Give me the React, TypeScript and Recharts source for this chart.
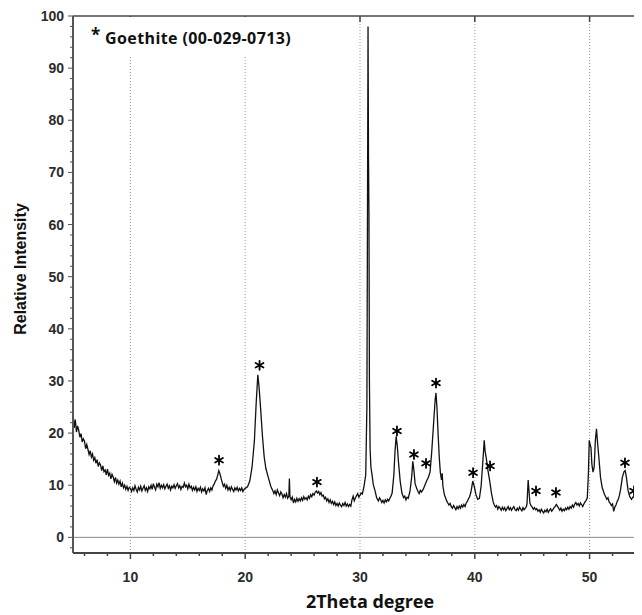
import { ComposedChart, Line, Scatter, XAxis, YAxis, ReferenceLine } from 'recharts';

// 2theta (deg), relative intensity
const lowAngle: [number, number][] = [
  [5.0, 24.0], [5.1, 21.0], [5.2, 22.6], [5.3, 20.2], [5.4, 21.4], [5.5, 20.5], [5.6, 19.2], [5.7, 19.9],
  [5.8, 18.3], [5.9, 18.9], [6.0, 18.5], [6.1, 17.0], [6.2, 17.8], [6.3, 16.9], [6.4, 15.9], [6.5, 16.6],
  [6.6, 15.4], [6.7, 16.0], [6.8, 14.8], [6.9, 15.3], [7.0, 14.2], [7.1, 14.9], [7.2, 13.6], [7.3, 14.3],
  [7.4, 13.9], [7.5, 12.8], [7.6, 13.7], [7.7, 12.6], [7.8, 12.9], [7.9, 12.0], [8.0, 13.1], [8.1, 11.9],
  [8.2, 12.3], [8.3, 11.2], [8.4, 12.1], [8.5, 11.6], [8.6, 10.7], [8.7, 11.5], [8.8, 10.4], [8.9, 11.0],
  [9.0, 10.2], [9.1, 10.8], [9.2, 9.7], [9.3, 10.4], [9.4, 9.5], [9.5, 10.0], [9.6, 9.2], [9.7, 9.8],
  [9.8, 9.0], [9.9, 9.6], [10.0, 9.4], [10.1, 8.8], [10.2, 9.5], [10.3, 9.0], [10.4, 9.9], [10.5, 9.2],
  [10.6, 8.7], [10.7, 9.6], [10.8, 9.1], [10.9, 9.8], [11.0, 8.9], [11.1, 9.4], [11.2, 9.9], [11.3, 9.0],
  [11.4, 9.5], [11.5, 8.8], [11.6, 9.7], [11.7, 9.3], [11.8, 10.0], [11.9, 9.2], [12.0, 10.3], [12.1, 9.6],
  [12.2, 9.1], [12.3, 10.2], [12.4, 9.7], [12.5, 10.5], [12.6, 9.4], [12.7, 10.0], [12.8, 9.5], [12.9, 10.1],
  [13.0, 9.3], [13.1, 9.8], [13.2, 10.2], [13.3, 9.4], [13.4, 9.9], [13.5, 9.1], [13.6, 9.8], [13.7, 9.5],
  [13.8, 10.1], [13.9, 9.4], [14.0, 9.9], [14.1, 10.3], [14.2, 9.5], [14.3, 9.9], [14.4, 9.2], [14.5, 9.8],
  [14.6, 9.6], [14.7, 10.4], [14.8, 9.7], [14.9, 10.0], [15.0, 9.3], [15.1, 10.2], [15.2, 9.5], [15.3, 9.8],
  [15.4, 9.0], [15.5, 9.6], [15.6, 9.1], [15.7, 9.7], [15.8, 8.8], [15.9, 9.4], [16.0, 9.0], [16.1, 9.6],
  [16.2, 8.7], [16.3, 9.3], [16.4, 8.9], [16.5, 9.5], [16.6, 8.2], [16.7, 9.0], [16.8, 9.4], [16.9, 8.8],
  [17.0, 9.5], [17.1, 9.1], [17.2, 9.9], [17.3, 10.2], [17.4, 10.8], [17.5, 11.1], [17.6, 11.9], [17.7, 12.8],
  [17.8, 12.2], [17.9, 11.3], [18.0, 10.5], [18.1, 9.8], [18.2, 10.2], [18.3, 9.4], [18.4, 10.0], [18.5, 9.1],
  [18.6, 9.6], [18.7, 9.0], [18.8, 9.7], [18.9, 9.2], [19.0, 8.8], [19.1, 9.5], [19.2, 9.1], [19.3, 9.6],
  [19.4, 8.9], [19.5, 9.4], [19.6, 9.0], [19.7, 9.5], [19.8, 8.8], [19.9, 9.2], [20.0, 9.4],
];

const midAngle: [number, number][] = [
  [20.2, 9.7], [20.4, 10.8], [20.6, 13.5], [20.8, 18.5], [20.95, 25.5], [21.1, 31.2], [21.2, 29.0],
  [21.35, 24.5], [21.5, 19.5], [21.65, 15.5], [21.8, 13.2], [22.0, 11.6], [22.2, 10.0], [22.3, 9.4],
  [22.4, 9.0], [22.5, 8.4], [22.6, 8.9], [22.7, 8.2], [22.8, 9.1], [22.9, 8.5], [23.0, 8.0], [23.1, 8.7],
  [23.2, 8.3], [23.3, 7.6], [23.4, 8.2], [23.5, 7.7], [23.6, 8.4], [23.7, 7.5], [23.8, 7.9], [23.85, 11.3],
  [23.9, 7.8], [24.0, 7.2], [24.1, 7.7], [24.2, 6.6], [24.3, 7.3], [24.4, 6.8], [24.5, 7.5], [24.6, 6.9],
  [24.7, 7.4], [24.8, 7.0], [24.9, 7.6], [25.0, 7.1], [25.1, 7.8], [25.2, 7.3], [25.3, 7.6], [25.4, 7.2],
  [25.5, 7.9], [25.6, 7.5], [25.7, 8.2], [25.8, 7.8], [25.9, 8.4], [26.0, 8.1], [26.1, 8.7], [26.2, 8.9],
  [26.3, 8.5], [26.4, 8.8], [26.5, 8.2], [26.6, 8.6], [26.7, 7.9], [26.8, 8.1], [26.9, 7.4], [27.0, 7.7],
  [27.1, 7.0], [27.2, 7.4], [27.3, 6.7], [27.4, 7.2], [27.5, 6.5], [27.6, 6.9], [27.7, 6.3], [27.8, 6.8],
  [27.9, 6.1], [28.0, 6.5], [28.1, 6.0], [28.2, 6.6], [28.3, 6.2], [28.4, 5.9], [28.5, 6.5], [28.6, 6.1],
  [28.7, 6.7], [28.8, 6.0], [28.9, 6.4], [29.0, 5.9], [29.1, 6.3], [29.2, 6.0], [29.3, 7.2], [29.4, 7.9],
  [29.5, 7.0], [29.6, 7.6], [29.7, 8.0], [29.8, 8.4], [29.9, 7.7], [30.0, 8.1], [30.1, 8.5], [30.2, 8.3],
  [30.35, 9.8], [30.5, 12.0], [30.6, 25.0], [30.65, 60.0], [30.7, 98.0], [30.74, 73.0], [30.78, 62.0],
  [30.82, 30.0], [30.88, 17.0], [30.95, 13.5], [31.05, 12.0], [31.15, 10.2], [31.3, 9.0], [31.45, 7.6],
  [31.6, 7.0], [31.7, 7.6], [31.8, 7.2], [31.9, 6.7], [32.0, 7.1], [32.1, 6.6], [32.2, 7.2], [32.3, 6.8],
  [32.4, 7.3], [32.5, 7.0], [32.6, 7.5], [32.7, 7.9], [32.8, 8.5], [32.95, 12.0], [33.05, 16.5],
  [33.15, 19.4], [33.25, 17.5], [33.35, 14.5], [33.5, 10.8], [33.65, 8.5], [33.8, 7.6], [33.9, 7.9],
  [34.0, 7.2], [34.1, 7.7], [34.2, 7.5], [34.35, 8.8], [34.5, 11.5], [34.6, 14.6], [34.7, 12.8], [34.8, 10.3],
  [34.95, 9.3], [35.05, 8.8], [35.15, 8.4], [35.25, 9.0], [35.35, 8.7], [35.5, 9.2], [35.65, 10.0],
  [35.8, 10.8], [35.95, 11.5], [36.1, 12.5], [36.25, 16.5], [36.4, 21.5], [36.55, 26.5], [36.62, 27.7],
  [36.7, 25.0], [36.8, 20.0], [36.9, 15.5], [37.0, 12.4], [37.1, 11.0], [37.16, 12.3], [37.22, 9.8],
];

const highAngle: [number, number][] = [
  [37.35, 8.2], [37.45, 7.6], [37.55, 7.0], [37.65, 6.6], [37.75, 6.2], [37.85, 6.5], [37.95, 5.9],
  [38.05, 5.6], [38.15, 6.1], [38.25, 5.7], [38.35, 5.3], [38.45, 5.9], [38.55, 5.5], [38.65, 6.0],
  [38.75, 5.6], [38.85, 6.2], [38.95, 5.8], [39.05, 6.3], [39.15, 5.9], [39.25, 6.6], [39.35, 6.9],
  [39.45, 7.4], [39.55, 7.8], [39.65, 8.6], [39.72, 9.4], [39.82, 10.8], [39.95, 9.8], [40.1, 8.2],
  [40.25, 7.3], [40.4, 7.5], [40.55, 9.8], [40.7, 14.5], [40.82, 18.6], [40.9, 16.5], [41.0, 15.2],
  [41.15, 12.8], [41.3, 10.8], [41.45, 8.5], [41.6, 6.8], [41.7, 6.2], [41.8, 5.8], [41.9, 6.1],
  [42.0, 5.4], [42.1, 5.9], [42.2, 5.6], [42.3, 5.2], [42.4, 5.8], [42.5, 5.3], [42.6, 5.7], [42.7, 5.1],
  [42.8, 5.5], [42.9, 5.9], [43.0, 5.3], [43.1, 5.7], [43.2, 5.2], [43.3, 5.6], [43.4, 5.9], [43.5, 5.3],
  [43.6, 5.1], [43.7, 5.6], [43.8, 5.2], [43.9, 5.8], [44.0, 5.4], [44.1, 5.1], [44.2, 5.7], [44.3, 5.3],
  [44.4, 5.6], [44.5, 5.9], [44.55, 6.5], [44.65, 11.0], [44.72, 9.0], [44.8, 6.6], [44.9, 6.1],
  [45.0, 5.8], [45.1, 5.4], [45.2, 5.7], [45.3, 5.3], [45.4, 5.5], [45.5, 5.0], [45.6, 5.3], [45.7, 4.8],
  [45.8, 5.4], [45.9, 5.0], [46.0, 4.7], [46.1, 5.2], [46.2, 4.9], [46.3, 5.4], [46.4, 4.8], [46.5, 5.2],
  [46.6, 5.5], [46.7, 5.0], [46.8, 5.3], [46.9, 5.7], [47.0, 5.9], [47.1, 6.3], [47.2, 6.0], [47.3, 5.6],
  [47.4, 5.2], [47.5, 5.6], [47.6, 5.0], [47.7, 5.4], [47.8, 5.1], [47.9, 5.6], [48.0, 5.3], [48.1, 5.8],
  [48.2, 5.4], [48.3, 5.9], [48.4, 5.6], [48.5, 6.2], [48.6, 5.8], [48.7, 6.4], [48.8, 6.7], [48.9, 6.2],
  [49.0, 6.5], [49.1, 6.0], [49.2, 6.6], [49.3, 6.3], [49.4, 5.9], [49.5, 6.4], [49.6, 6.8], [49.7, 7.1],
  [49.8, 7.6], [49.9, 12.5], [49.97, 18.6], [50.05, 17.8], [50.12, 17.2], [50.2, 14.0], [50.3, 12.5],
  [50.4, 13.5], [50.5, 18.5], [50.6, 20.8], [50.7, 18.0], [50.8, 15.5], [50.95, 11.5], [51.1, 9.5],
  [51.2, 8.9], [51.3, 8.2], [51.4, 7.8], [51.5, 7.3], [51.6, 7.6], [51.7, 6.8], [51.8, 6.5], [51.9, 6.1],
  [52.0, 6.4], [52.1, 5.0], [52.2, 5.8], [52.3, 6.2], [52.4, 6.9], [52.5, 7.3], [52.6, 8.1], [52.7, 9.2],
  [52.85, 11.5], [53.0, 12.6], [53.1, 12.8], [53.2, 11.6], [53.35, 9.0], [53.5, 7.8], [53.65, 7.3],
  [53.8, 7.8], [53.95, 7.6], [54.1, 7.1], [54.25, 6.2], [54.4, 5.5], [54.5, 5.9], [54.6, 5.6],
  [54.7, 5.2], [54.8, 5.5], [54.9, 5.3], [55.0, 5.6],
];

// goethite reflections marked with * (position, marker height)
const goethitePeaks: [number, number][] = [
  [17.72, 14.8], [21.25, 33.0], [26.25, 10.6], [33.22, 20.4], [34.7, 15.9], [35.75, 14.2], [36.62, 29.6],
  [39.85, 12.4], [41.33, 13.7], [45.33, 8.9], [47.07, 8.6], [53.08, 14.3], [53.87, 8.9],
];

const xTicks = [6, 8, 10, 12, 14, 16, 18, 20, 22, 24, 26, 28, 30, 32, 34, 36, 38, 40, 42, 44, 46, 48, 50, 52, 54];
const xMajor = [10, 20, 30, 40, 50];
const yTicks = [-2, 0, 2, 4, 6, 8, 10, 12, 14, 16, 18, 20, 22, 24, 26, 28, 30, 32, 34, 36, 38, 40, 42, 44, 46, 48,
  50, 52, 54, 56, 58, 60, 62, 64, 66, 68, 70, 72, 74, 76, 78, 80, 82, 84, 86, 88, 90, 92, 94, 96, 98, 100];

const pattern = [...lowAngle, ...midAngle, ...highAngle].map(([t, i]) => ({ t, i }));
const marks = goethitePeaks.map(([t, i]) => ({ t, i }));

const tickFont = {
  fontFamily: 'Liberation Sans, Arial, sans-serif',
  fontSize: 14,
  fontWeight: 700,
  fill: '#2b2b2b',
};

function BottomTick(props: any) {
  const { x, y, payload } = props;
  const major = payload.value % 10 === 0;
  return (
    <g>
      <line x1={x} x2={x} y1={y} y2={y + (major ? 6 : 3)} stroke="#444" strokeWidth={1.5} />
      {major && (
        <text x={x} y={y + 29} textAnchor="middle" {...tickFont}>
          {payload.value}
        </text>
      )}
    </g>
  );
}

function TopTick(props: any) {
  const { x, y } = props;
  return <line x1={x} x2={x} y1={y} y2={y + 6} stroke="#444" strokeWidth={1.5} />;
}

function LeftTick(props: any) {
  const { x, y, payload } = props;
  const major = payload.value % 10 === 0;
  return (
    <g>
      <line x1={x} x2={x - (major ? 5 : 3)} y1={y} y2={y} stroke="#555" strokeWidth={1} />
      {major && (
        <text x={x - 9} y={y} dy={5} textAnchor="end" {...tickFont}>
          {payload.value}
        </text>
      )}
    </g>
  );
}

function Asterisk(props: any) {
  const { cx, cy } = props;
  const r = 4.5;
  const dx = r * 0.866;
  const dy = r * 0.5;
  return (
    <g stroke="#000" strokeWidth={1.8} strokeLinecap="round">
      <line x1={cx} x2={cx} y1={cy - r} y2={cy + r} />
      <line x1={cx - dx} x2={cx + dx} y1={cy - dy} y2={cy + dy} />
      <line x1={cx - dx} x2={cx + dx} y1={cy + dy} y2={cy - dy} />
    </g>
  );
}

export default function App() {
  return (
    <div
      style={{
        position: 'relative',
        margin: '-8px 0 0 -8px',
        width: 642,
        height: 615,
        overflow: 'hidden',
        background: '#fff',
      }}
    >
      <ComposedChart width={660} height={615} data={pattern} margin={{ top: 15, right: 13, left: 0, bottom: 0 }}>
        <XAxis
          dataKey="t"
          type="number"
          domain={[5, 55]}
          allowDataOverflow
          ticks={xTicks}
          interval={0}
          height={62}
          tickSize={0}
          tickMargin={0}
          tick={<BottomTick />}
          axisLine={{ stroke: '#444', strokeWidth: 2 }}
          tickLine={false}
        />
        <XAxis
          xAxisId="top"
          orientation="top"
          dataKey="t"
          type="number"
          domain={[5, 55]}
          allowDataOverflow
          ticks={xMajor}
          interval={0}
          height={1}
          tickSize={0}
          tickMargin={0}
          tick={<TopTick />}
          axisLine={{ stroke: '#777', strokeWidth: 2 }}
          tickLine={false}
        />
        <YAxis
          dataKey="i"
          type="number"
          domain={[-3, 100]}
          allowDataOverflow
          ticks={yTicks}
          interval={0}
          width={73}
          tickSize={0}
          tickMargin={0}
          tick={<LeftTick />}
          axisLine={{ stroke: '#555', strokeWidth: 2 }}
          tickLine={false}
        />
        {xMajor.map((v) => (
          <ReferenceLine key={v} x={v} stroke="#9a9a9a" strokeDasharray="1 2" strokeWidth={1} />
        ))}
        <ReferenceLine y={0} stroke="#8a8a8a" strokeWidth={1} />
        <Line
          dataKey="i"
          type="linear"
          stroke="#111"
          strokeWidth={1.3}
          dot={false}
          isAnimationActive={false}
        />
        <Scatter data={marks} dataKey="i" shape={<Asterisk />} isAnimationActive={false} />
      </ComposedChart>

      <div
        style={{
          position: 'absolute',
          left: 74,
          top: 17,
          width: 228,
          height: 40,
          background: '#fff',
          fontFamily: 'Open Sans, sans-serif',
          fontWeight: 700,
          color: '#111',
        }}
      >
        <span style={{ position: 'absolute', left: 17, top: 6, fontSize: 17 }}>*</span>
        <span
          style={{
            position: 'absolute',
            left: 31,
            top: 10,
            fontSize: 16,
            letterSpacing: 0.4,
            whiteSpace: 'nowrap',
          }}
        >
          Goethite (00-029-0713)
        </span>
      </div>

      <div
        style={{
          position: 'absolute',
          left: 21,
          top: 269,
          transform: 'translate(-50%, -50%) rotate(-90deg)',
          fontFamily: 'Liberation Sans, Arial, sans-serif',
          fontWeight: 700,
          fontSize: 16,
          color: '#111',
          whiteSpace: 'nowrap',
        }}
      >
        Relative Intensity
      </div>

      <div
        style={{
          position: 'absolute',
          left: 370,
          top: 601,
          transform: 'translate(-50%, -50%)',
          fontFamily: 'Open Sans, sans-serif',
          fontWeight: 700,
          fontSize: 18,
          color: '#111',
          whiteSpace: 'nowrap',
        }}
      >
        2Theta degree
      </div>
    </div>
  );
}
